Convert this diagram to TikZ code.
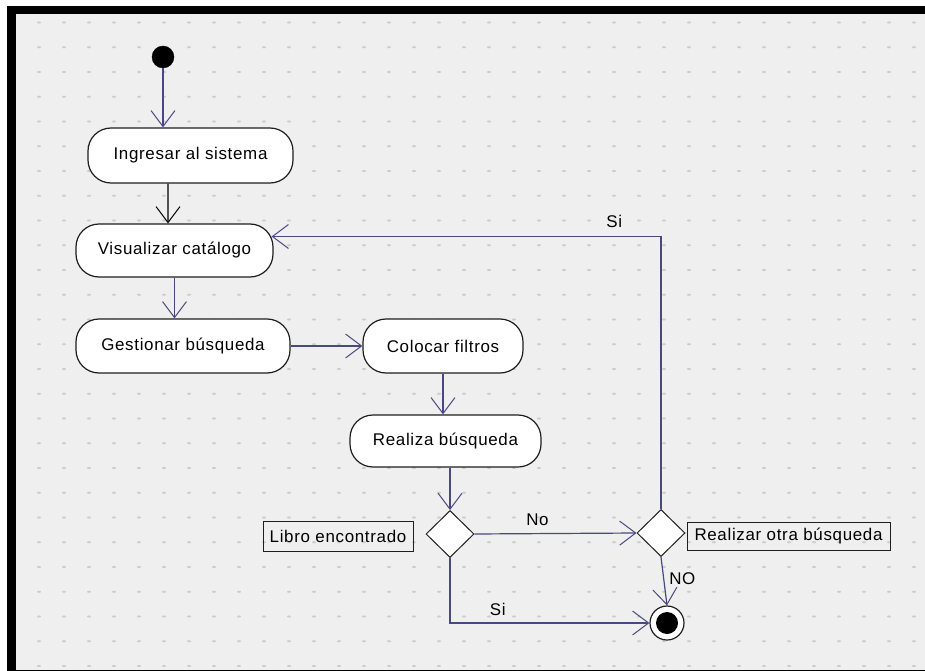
\documentclass[tikz,border=0pt]{standalone}
\usepackage{fontspec}
\setmainfont{Liberation Sans}[LetterSpace=4]
\usetikzlibrary{arrows.meta,shapes.geometric}

\definecolor{canvas}{RGB}{239,239,239}
\definecolor{griddot}{RGB}{205,205,205}
\definecolor{flowline}{RGB}{72,72,130}
\definecolor{edge}{RGB}{30,30,30}

\tikzset{
  activity/.style={draw=edge, line width=1.2bp, fill=white, rounded corners=23bp,
    inner sep=0pt, font=\fontsize{17}{20}\selectfont},
  decision/.style={diamond, draw=edge, line width=1bp, fill=white, inner sep=0pt,
    minimum width=48bp, minimum height=47bp},
  note/.style={draw=edge, line width=1bp, inner sep=3bp, font=\fontsize{17}{20}\selectfont},
  guard/.style={font=\fontsize{17}{20}\selectfont, inner sep=0pt},
  flow/.style={draw=flowline, line width=1.2bp,
    -{Straight Barb[length=16bp,width=24bp,line width=1bp]}},
  flowk/.style={flow, draw=black},
}

\begin{document}
\begin{tikzpicture}[x=1bp,y=-1bp]
  % canvas and the black frame bands on the left, top and bottom
  \useasboundingbox (0,0) rectangle (925,671);
  \fill[white] (-20,-20) rectangle (960,700);
  \fill[canvas] (16,14) rectangle (960,670);
  \fill[black] (7,6) rectangle (16,700);
  \fill[black] (7,6) rectangle (960,14);
  \fill[black] (7,669.5) rectangle (960,700);
  \foreach \i in {0,...,35}
    \foreach \j in {0,...,26}
      \fill[griddot] (39+25*\i, 22.5+24.75*\j) ellipse (2bp and 1.1bp);

  % start
  \node[circle, fill=black, draw=black, minimum size=22bp, inner sep=0pt] (start) at (163,57) {};

  % activities
  \node[activity, minimum width=205bp, minimum height=55bp] (ing) at (190.5,155.5) {Ingresar al sistema};
  \node[activity, minimum width=197bp, minimum height=53bp] (vis) at (174.5,250.5) {Visualizar catálogo};
  \node[activity, minimum width=214bp, minimum height=54bp] (ges) at (183,346) {Gestionar búsqueda};
  \node[activity, minimum width=160bp, minimum height=54bp] (col) at (443,346) {Colocar filtros};
  \node[activity, minimum width=191bp, minimum height=52bp] (rea) at (445.5,441) {Realiza búsqueda};

  % decisions and their notes
  \node[decision] (dec1) at (450,534) {};
  \node[decision] (dec2) at (661,533) {};
  \node[note, minimum width=150bp, minimum height=30bp] (lib) at (338,536) {Libro encontrado};
  \node[note, minimum width=203bp, minimum height=28bp] (otra) at (788.5,536) {Realizar otra búsqueda};

  % end
  \node[circle, draw=edge, fill=white, line width=1.2bp, minimum size=34bp, inner sep=0pt] (fin) at (667,623) {};
  \fill[black] (fin.center) circle (11bp);

  % flows
  \draw[flow] (start) -- (ing.north -| start);
  \draw[flowk] ([xshift=-22.5bp]ing.south) -- ([xshift=-6.5bp]vis.north);
  \draw[flow] (vis.south) -- (vis.south |- ges.north);
  \draw[flow] (ges.east) -- (col.west);
  \draw[flow] (col.south) -- (col.south |- rea.north);
  \draw[flow] (dec1.north |- rea.south) -- (dec1.north);
  \draw[flow] (dec1.east) -- node[guard, above=7bp, xshift=-18bp] {No} (dec2.west);
  \draw[flow] (dec2.south) -- node[guard, right=5bp, pos=0.45] {NO} (fin.north);
  \draw[flow] (dec1.south) |- node[guard, pos=0.62, above=7bp] {Si} (fin.west);
  \coordinate (visin) at ([xshift=-2bp,yshift=14bp]vis.east);
  \draw[flow] (dec2.north) |- node[guard, pos=0.56, above=8bp] {Si} (visin);
\end{tikzpicture}
\end{document}
